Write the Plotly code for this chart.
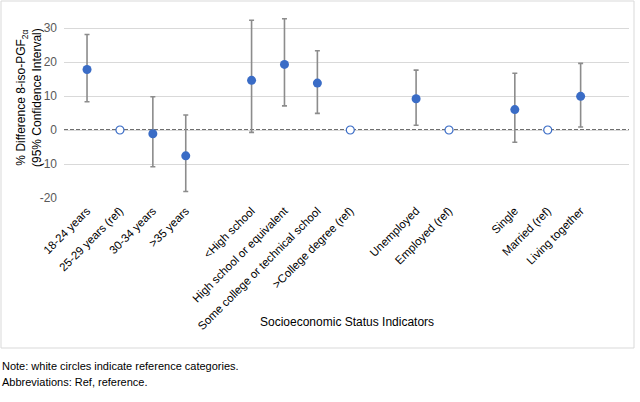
import plotly.graph_objects as go

categories = ["18-24 years", "25-29 years (ref)", "30-34 years", ">35 years",
              "<High school", "High school or equivalent", "Some college or technical school", ">College degree (ref)",
              "Unemployed", "Employed (ref)",
              "Single", "Married (ref)", "Living together"]
positions = [0, 1, 2, 3, 5, 6, 7, 8, 10, 11, 13, 14, 15]
estimates = [17.8, 0, -1.1, -7.6, 14.6, 19.3, 13.8, 0, 9.2, 0, 6.0, 0, 9.9]
ci_low = [8.3, 0, -10.8, -18.1, -0.7, 7.1, 4.9, 0, 1.4, 0, -3.6, 0, 0.9]
ci_high = [28.1, 0, 9.8, 4.4, 32.3, 32.7, 23.3, 0, 17.6, 0, 16.7, 0, 19.6]
is_ref = [False, True, False, False, False, False, False, True, False, True, False, True, False]
y_ticks = [-20, -10, 0, 10, 20, 30]
y_tick_labels = ["-20", "-10", "0", "10", "20", "30"]

BLUE = "#3A6CC6"
FONT = "Liberation Sans, Arial, sans-serif"

nx = [p for p, r in zip(positions, is_ref) if not r]
ny = [e for e, r in zip(estimates, is_ref) if not r]
nhi = [h - e for h, e, r in zip(ci_high, estimates, is_ref) if not r]
nlo = [e - l for l, e, r in zip(ci_low, estimates, is_ref) if not r]
rx = [p for p, r in zip(positions, is_ref) if r]
ry = [e for e, r in zip(estimates, is_ref) if r]

fig = go.Figure()
fig.add_trace(go.Scatter(
    x=nx, y=ny, mode="markers",
    marker=dict(size=9, color=BLUE, line=dict(width=0)),
    error_y=dict(type="data", symmetric=False, array=nhi, arrayminus=nlo,
                 color="#8C8C8C", thickness=1.6, width=2.5),
    showlegend=False, cliponaxis=False))
fig.add_trace(go.Scatter(
    x=rx, y=ry, mode="markers",
    marker=dict(size=8, color="white", line=dict(width=1.2, color=BLUE)),
    showlegend=False, cliponaxis=False))

fig.add_shape(type="line", xref="paper", yref="y", x0=0, x1=1, y0=0, y1=0,
              line=dict(color="#404040", width=1.5, dash="4px,2px"), layer="below")
# outer chart border
fig.add_shape(type="rect", xref="paper", yref="paper",
              x0=(1 - 64) / 565, x1=(634 - 64) / 565,
              y0=(198 - 348) / 187, y1=(198 - 1) / 187,
              line=dict(color="#D9D9D9", width=1), fillcolor="rgba(0,0,0,0)", layer="below")

fig.update_layout(
    width=640, height=402,
    margin=dict(l=64, r=11, t=11, b=204),
    paper_bgcolor="white", plot_bgcolor="white",
    font=dict(family=FONT, color="#000000"),
    xaxis=dict(range=[-0.7, 16.47], tickvals=positions, ticktext=categories,
               tickangle=-45, tickfont=dict(size=11.5, color="#000000"),
               showgrid=False, zeroline=False, showline=False, ticks="",
               ticklabelstandoff=3, automargin=False),
    yaxis=dict(range=[-20, 35], tickvals=y_ticks, ticktext=y_tick_labels,
               tickfont=dict(size=12, color="#595959"),
               showgrid=True, gridcolor="#D9D9D9", gridwidth=1, zeroline=False,
               showline=False, ticks="", ticklabelstandoff=6, automargin=False),
)

fig.add_annotation(text="% Difference 8-iso-PGF<sub>2α</sub><br>(95% Confidence Interval)",
                   xref="paper", yref="paper", x=(29 - 64) / 565, y=(198 - 98) / 187,
                   textangle=-90, showarrow=False, xanchor="center", yanchor="middle",
                   font=dict(size=12, color="#000000"))
fig.add_annotation(text="Socioeconomic Status Indicators",
                   xref="paper", yref="paper", x=(347 - 64) / 565, y=(198 - 322) / 187,
                   showarrow=False, xanchor="center", yanchor="middle",
                   font=dict(size=12, color="#000000"))
fig.add_annotation(text="Note: white circles indicate reference categories.",
                   xref="paper", yref="paper", x=(0 - 64) / 565, y=(198 - 366) / 187,
                   showarrow=False, xanchor="left", yanchor="middle",
                   font=dict(size=11, color="#000000"))
fig.add_annotation(text="Abbreviations: Ref, reference.",
                   xref="paper", yref="paper", x=(0 - 64) / 565, y=(198 - 382) / 187,
                   showarrow=False, xanchor="left", yanchor="middle",
                   font=dict(size=11, color="#000000"))

fig.write_html("out.html", config={"displayModeBar": False},
               post_script="document.body.style.margin='0';document.body.style.overflow='hidden';")
